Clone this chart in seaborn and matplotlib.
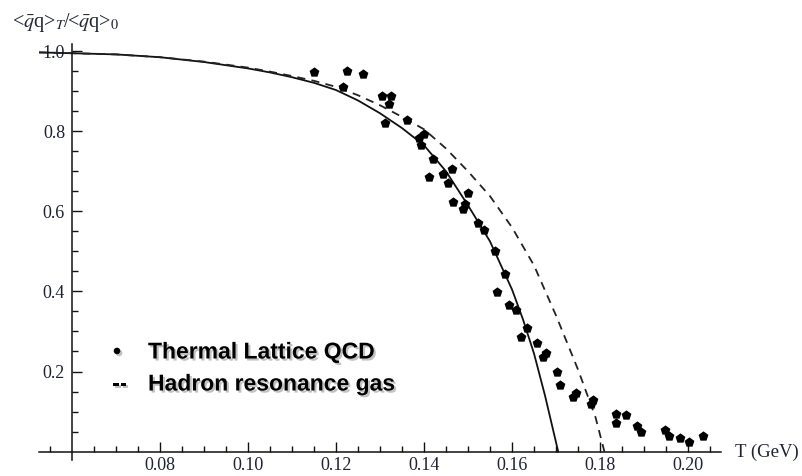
import matplotlib
matplotlib.use("Agg")
import matplotlib.pyplot as plt
import matplotlib.patheffects as pe
import numpy as np
import pandas as pd
import seaborn as sns

# ---- data ----
lattice_T = [0.1151, 0.1224, 0.1262, 0.1216, 0.1305, 0.1326, 0.1320, 0.1312, 0.1362,
             0.1400, 0.1388, 0.1394, 0.1420, 0.1411, 0.1443, 0.1464, 0.1455, 0.1499,
             0.1467, 0.1493, 0.1489, 0.1523, 0.1536, 0.1561, 0.1585, 0.1567, 0.1593,
             0.1610, 0.1633, 0.1620, 0.1656, 0.1678, 0.1671, 0.1703, 0.1708, 0.1738,
             0.1746, 0.1785, 0.1779, 0.1837, 0.1837, 0.1858, 0.1885, 0.1893, 0.1947,
             0.1957, 0.1981, 0.2002, 0.2034]
lattice_ratio = [0.948, 0.951, 0.944, 0.911, 0.887, 0.887, 0.867, 0.820, 0.828,
                 0.792, 0.782, 0.765, 0.730, 0.687, 0.694, 0.705, 0.670, 0.647,
                 0.624, 0.618, 0.605, 0.572, 0.553, 0.500, 0.443, 0.399, 0.365,
                 0.353, 0.308, 0.287, 0.272, 0.247, 0.237, 0.200, 0.167, 0.137,
                 0.147, 0.130, 0.119, 0.095, 0.072, 0.091, 0.065, 0.049, 0.055,
                 0.038, 0.034, 0.023, 0.038]

solid_T = [0.0525, 0.06, 0.07, 0.08, 0.09, 0.10, 0.105, 0.11, 0.115, 0.12, 0.125,
           0.13, 0.135, 0.14, 0.145, 0.15, 0.155, 0.16, 0.1625, 0.165, 0.1675,
           0.1705]
solid_ratio = [0.997, 0.995, 0.992, 0.985, 0.973, 0.957, 0.947, 0.935, 0.921, 0.903,
               0.877, 0.845, 0.808, 0.765, 0.700, 0.615, 0.525, 0.405, 0.330, 0.245,
               0.140, 0.0]

hrg_T = [0.0525, 0.06, 0.07, 0.08, 0.09, 0.10, 0.105, 0.11, 0.115, 0.12, 0.125,
         0.13, 0.135, 0.14, 0.145, 0.15, 0.155, 0.16, 0.165, 0.17, 0.175, 0.179,
         0.181]
hrg_ratio = [0.997, 0.995, 0.992, 0.985, 0.974, 0.959, 0.949, 0.938, 0.926, 0.911,
             0.890, 0.865, 0.836, 0.805, 0.757, 0.700, 0.638, 0.560, 0.465, 0.340,
             0.205, 0.085, 0.0]

x_major = [0.08, 0.10, 0.12, 0.14, 0.16, 0.18, 0.20]
x_labels = ["0.08", "0.10", "0.12", "0.14", "0.16", "0.18", "0.20"]
y_major = [0.2, 0.4, 0.6, 0.8, 1.0]
y_labels = ["0.2", "0.4", "0.6", "0.8", "1.0"]

# ---- figure ----
sns.set_style("white")
plt.rcParams["mathtext.fontset"] = "stix"
fig = plt.figure(figsize=(8.03, 4.76), dpi=100)
ax = fig.add_axes([39 / 803, 1 - 460 / 476, 682 / 803, 416 / 476])

df_lat = pd.DataFrame({"T": lattice_T, "r": lattice_ratio})
df_sol = pd.DataFrame({"T": solid_T, "r": solid_ratio})
df_hrg = pd.DataFrame({"T": hrg_T, "r": hrg_ratio})

sns.lineplot(data=df_sol, x="T", y="r", ax=ax, color="#111111", lw=1.3,
             sort=False, estimator=None)
sns.lineplot(data=df_hrg, x="T", y="r", ax=ax, color="#222222", lw=1.3,
             linestyle=(0, (4.5, 3.5)), sort=False, estimator=None)
sns.scatterplot(data=df_lat, x="T", y="r", ax=ax, color="black", marker="p",
                s=55, linewidth=0, zorder=5)

ax.set_xlim(0.0525, 0.2075)
ax.set_ylim(-0.021, 1.018)

# Mathematica-style crossing axes
for s in ["top", "right"]:
    ax.spines[s].set_visible(False)
ax.spines["left"].set_position(("data", 0.06))
ax.spines["bottom"].set_position(("data", 0.0))
for s in ["left", "bottom"]:
    ax.spines[s].set_color("#111111")
    ax.spines[s].set_linewidth(1.1)

ax.set_xticks(x_major)
ax.set_xticklabels(x_labels)
x_minor = [round(0.055 + 0.005 * i, 3) for i in range(31)]
x_minor = [v for v in x_minor if v <= 0.2051 and v != 0.06 and
           all(abs(v - m) > 1e-6 for m in x_major)]
ax.set_xticks(x_minor, minor=True)
ax.set_yticks(y_major)
ax.set_yticklabels(y_labels)
y_minor = [round(0.05 * i, 2) for i in range(1, 21)]
y_minor = [v for v in y_minor if all(abs(v - m) > 1e-6 for m in y_major)]
ax.set_yticks(y_minor, minor=True)

ax.tick_params(axis="both", which="both", direction="in", color="#111111", width=1.0,
               bottom=True, left=True, top=False, right=False)
ax.tick_params(axis="both", which="major", length=7)
ax.tick_params(axis="both", which="minor", length=4)
ax.tick_params(axis="x", which="major", pad=4)
ax.tick_params(axis="y", which="major", pad=5)
for lab in ax.get_xticklabels() + ax.get_yticklabels():
    lab.set_fontfamily("Liberation Serif")
    lab.set_fontsize(13)
    lab.set_color("#1e2233")
ax.set_xlabel("")
ax.set_ylabel("")

# axis titles
fig.text(12 / 803, 1 - 22 / 476, r"<$\bar{q}$q>$_T$/<$\bar{q}$q>$_0$",
         fontsize=14.5, family="Liberation Serif", color="#1e2233",
         ha="left", va="center")
fig.text(735 / 803, 1 - 452 / 476, "T (GeV)", fontsize=13.5,
         family="Liberation Serif", color="#1e2233", ha="left", va="center")

# legend-like annotation
shadow = [pe.SimplePatchShadow(offset=(1.5, -1.5), shadow_rgbFace="#999999", alpha=0.6),
          pe.Normal()]
txt_kw = dict(fontsize=16.5, fontweight="bold", family="Liberation Sans",
              color="black", va="center", path_effects=shadow)
fig.text(113 / 803, 1 - 352 / 476, "\u2022", ha="left", **txt_kw)
fig.text(148 / 803, 1 - 352 / 476, "Thermal Lattice QCD", ha="left", **txt_kw)
fig.text(112 / 803, 1 - 384 / 476, "--", ha="left", **txt_kw)
fig.text(148 / 803, 1 - 384 / 476, "Hadron resonance gas", ha="left", **txt_kw)

fig.savefig("out.png", dpi=100)
